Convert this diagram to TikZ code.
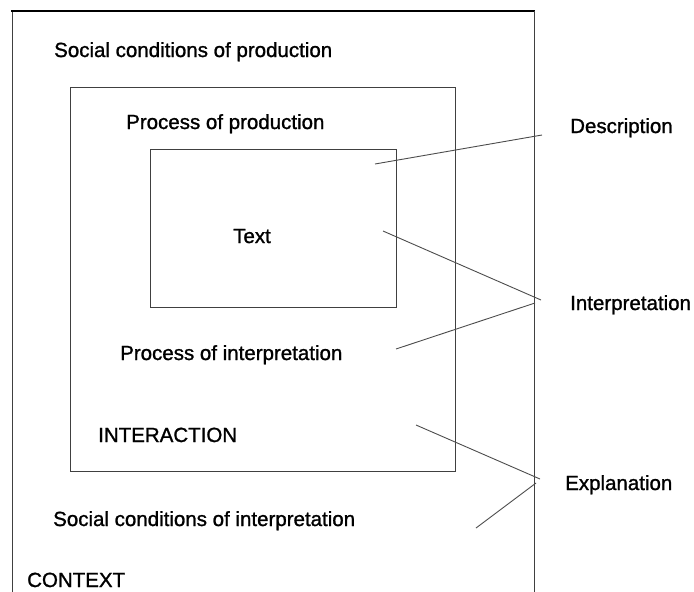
\documentclass[tikz,border=0pt]{standalone}
\usepackage{fontspec}
\setmainfont{Liberation Sans}[BoldFont=Liberation Sans,BoldFeatures={FakeBold=1.2}]
\begin{document}
\begin{tikzpicture}[x=1pt,y=-1pt,
  lbl/.style={anchor=base west,inner sep=0pt,font=\fontsize{20.5}{24}\selectfont\bfseries},
  box/.style={draw=black!75,line width=1pt},
  conn/.style={draw=black!70,line width=0.9pt}]
\useasboundingbox (0,0) rectangle (694,592);
\clip (0,0) rectangle (694,592);
% outer context frame (open at bottom)
\draw[box] (12,600) -- (12,11);
\draw[draw=black,line width=2pt] (11,11) -- (535,11);
\draw[box] (534,11) -- (534,600);
% interaction box
\node[box,minimum width=385pt,minimum height=384pt,inner sep=0pt,anchor=north west] (inter) at (70,87) {};
% text box
\node[box,minimum width=246pt,minimum height=158pt,inner sep=0pt,anchor=north west] (textbox) at (150,149) {};
% labels
\node[lbl] (scp) at (54,57) {Social conditions of production};
\node[lbl] (pp) at (126,129) {Process of production};
\node[lbl] (txt) at (233,243) {Text};
\node[lbl] (pi) at (120,360) {Process of interpretation};
\node[lbl] (ia) at (98,442) {INTERACTION};
\node[lbl] (sci) at (53,526) {Social conditions of interpretation};
\node[lbl] (ctx) at (27,587) {CONTEXT};
\node[lbl] (desc) at (570,133) {Description};
\node[lbl] (interp) at (570,310) {Interpretation};
\node[lbl] (expl) at (565,490) {Explanation};
% connector end points
\coordinate (d1) at (375,164);
\coordinate (d2) at (542,135);
\coordinate (i1) at (383,231);
\coordinate (i2) at (541,300);
\coordinate (i3) at (535,303);
\coordinate (i4) at (396,349);
\coordinate (e1) at (416,425);
\coordinate (e2) at (540,479);
\coordinate (e3) at (536,483);
\coordinate (e4) at (476,528);
\draw[conn] (d1) -- (d2);
\draw[conn] (i1) -- (i2);
\draw[conn] (i3) -- (i4);
\draw[conn] (e1) -- (e2);
\draw[conn] (e3) -- (e4);
\end{tikzpicture}
\end{document}
